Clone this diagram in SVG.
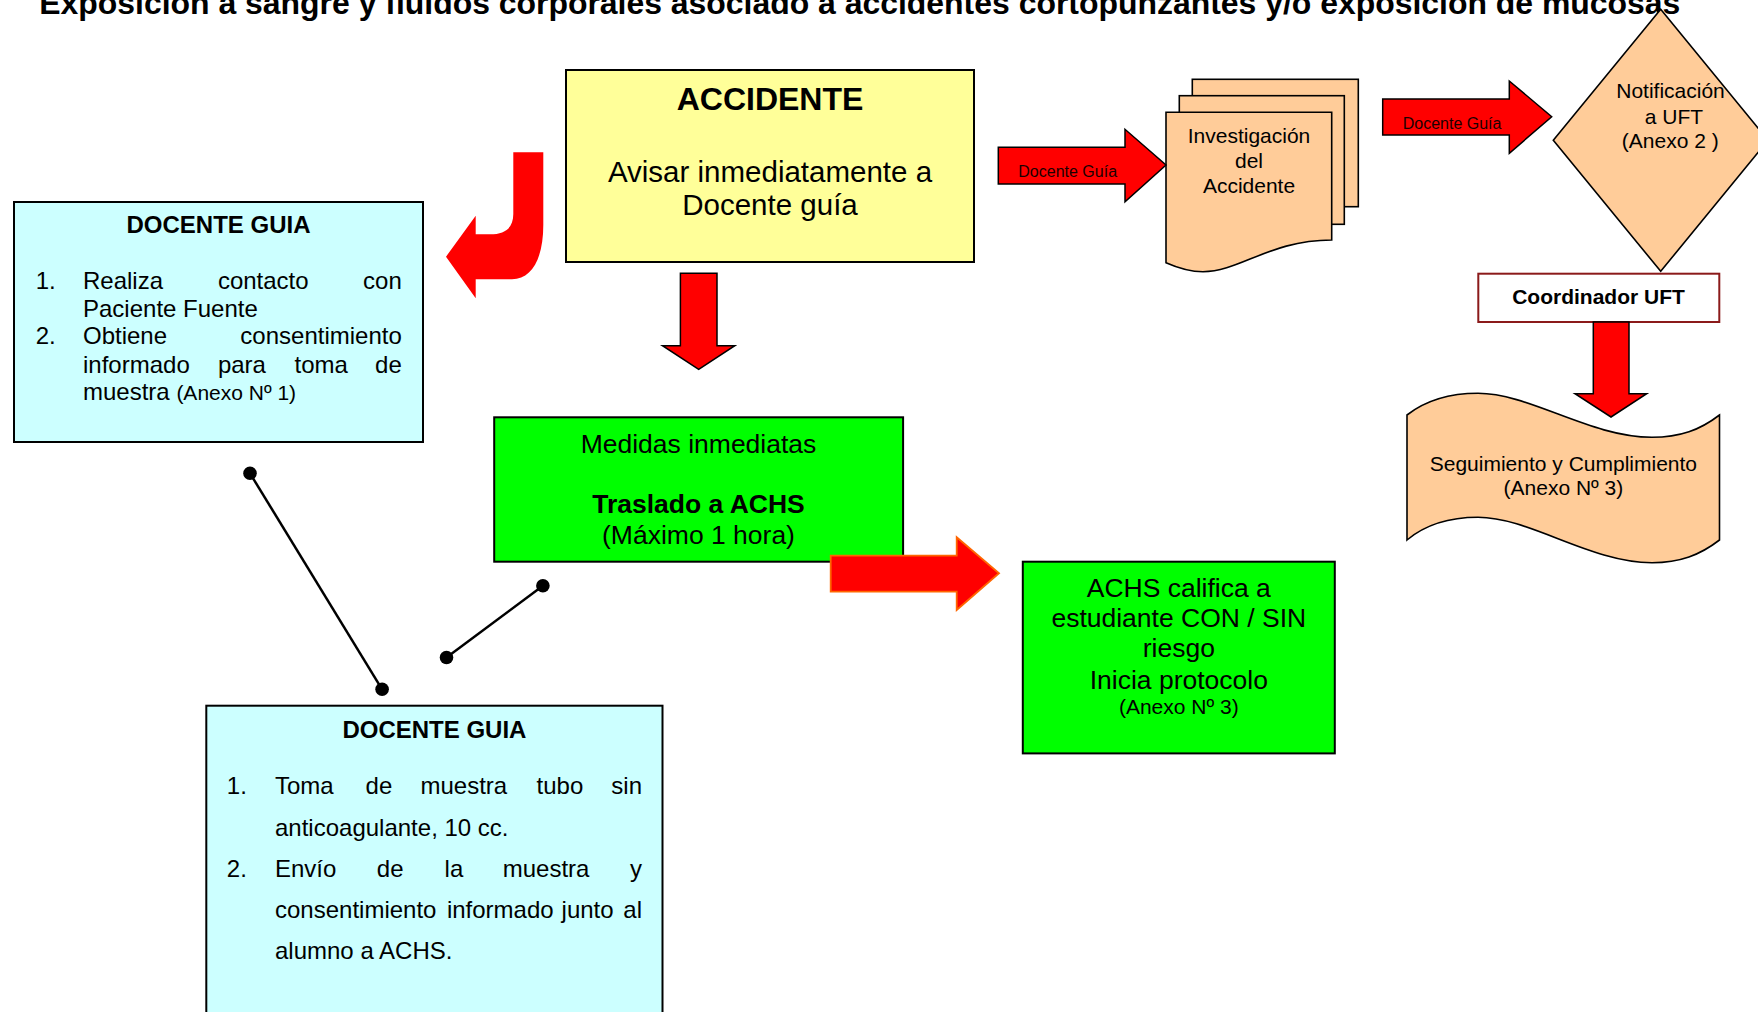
<svg xmlns="http://www.w3.org/2000/svg" width="1758" height="1012" viewBox="0 0 1758 1012">
<style>
text{font-family:"Liberation Sans",Arial,sans-serif;fill:#000}
.b{font-weight:bold}
.box{stroke:#000;stroke-width:2}
.yel{fill:#FFFF99}
.cy{fill:#CCFFFF}
.gr{fill:#00FF00}
.pe{fill:#FFCC99;stroke:#000;stroke-width:1.6}
.arr{fill:#FF0000;stroke:#000;stroke-width:1.5}
.c{text-anchor:middle}
.e{text-anchor:end}
.l24{font-size:24px}
.s21{font-size:21px}
.s265{font-size:26.5px}
.lbl{font-size:16px;fill:#1a0000}
.ln{stroke:#000;stroke-width:2.5;fill:none}
</style>
<rect width="1758" height="1012" fill="#fff"/>
<text id="title" class="b" x="39.3" y="14" font-size="32" textLength="1641" lengthAdjust="spacingAndGlyphs">Exposición a sangre y fluidos corporales asociado a accidentes cortopunzantes y/o exposición de mucosas</text>

<g id="accidente">
<rect class="box yel" x="566" y="70" width="408" height="192"/>
<text class="b c" x="770" y="110" font-size="32">ACCIDENTE</text>
<text class="c" x="770" y="181.7" font-size="29.5">Avisar inmediatamente a</text>
<text class="c" x="770" y="215" font-size="29.5">Docente guía</text>
</g>

<g id="docente1">
<rect class="box cy" x="14" y="202" width="409" height="240"/>
<text class="b c l24" x="218.5" y="233.3">DOCENTE GUIA</text>
<g class="l24">
<text x="35.7" y="289.3">1.</text>
<text x="83" y="289.3">Realiza</text>
<text x="217.9" y="289.3">contacto</text>
<text class="e" x="401.8" y="289.3">con</text>
<text x="83" y="316.7">Paciente Fuente</text>
<text x="35.7" y="344.3">2.</text>
<text x="83" y="344.3">Obtiene</text>
<text class="e" x="401.8" y="344.3">consentimiento</text>
<text x="83" y="372.7">informado</text>
<text x="217.9" y="372.7">para</text>
<text x="294.6" y="372.7">toma</text>
<text class="e" x="401.8" y="372.7">de</text>
<text x="83" y="400">muestra <tspan font-size="21">(Anexo Nº 1)</tspan></text>
</g>
</g>

<g id="medidas">
<rect class="box gr" x="494.2" y="417.3" width="408.9" height="144.4"/>
<text class="c s265" x="698.5" y="452.7">Medidas inmediatas</text>
<text class="b c s265" x="698.5" y="513.3">Traslado a ACHS</text>
<text class="c s265" x="698.5" y="544.3">(Máximo 1 hora)</text>
</g>

<g id="achs">
<rect class="box gr" x="1022.8" y="561.7" width="312" height="191.7"/>
<text class="c s265" x="1178.8" y="596.7">ACHS califica a</text>
<text class="c s265" x="1178.8" y="627">estudiante CON / SIN</text>
<text class="c s265" x="1178.8" y="657">riesgo</text>
<text class="c s265" x="1178.8" y="688.5">Inicia protocolo</text>
<text class="c s21" x="1178.8" y="714">(Anexo Nº 3)</text>
</g>

<g id="docente2">
<rect class="box cy" x="206.3" y="705.7" width="456.2" height="330"/>
<text class="b c l24" x="434.4" y="737.7">DOCENTE GUIA</text>
<g class="l24">
<text x="226.8" y="794">1.</text>
<text x="275" y="794">Toma</text>
<text x="365.6" y="794">de</text>
<text x="420.5" y="794">muestra</text>
<text x="536.6" y="794">tubo</text>
<text class="e" x="642" y="794">sin</text>
<text x="275" y="835.7">anticoagulante, 10 cc.</text>
<text x="226.8" y="876.7">2.</text>
<text x="275" y="876.7">Envío</text>
<text x="376.8" y="876.7">de</text>
<text x="444.6" y="876.7">la</text>
<text x="502.7" y="876.7">muestra</text>
<text class="e" x="642" y="876.7">y</text>
<text x="275" y="918.3">consentimiento</text>
<text x="446.9" y="918.3">informado</text>
<text x="561.6" y="918.3">junto</text>
<text class="e" x="642" y="918.3">al</text>
<text x="275" y="959.3">alumno a ACHS.</text>
</g>
</g>

<g id="investigacion">
<rect class="pe" x="1192.3" y="79.3" width="166" height="127.4"/>
<rect class="pe" x="1179.3" y="95.7" width="165" height="128.6"/>
<path class="pe" d="M1166,112.3 H1331.7 V240 C1270,240 1240,271.7 1203,271.7 C1190,271.7 1178,268 1166,262.7 Z"/>
<text class="c s21" x="1249" y="143.3">Investigación</text>
<text class="c s21" x="1249" y="168.3">del</text>
<text class="c s21" x="1249" y="192.7">Accidente</text>
</g>

<g id="notificacion">
<path class="pe" d="M1660.7,9.3 L1768,140.3 L1660.7,271.3 L1553.3,140.3 Z"/>
<text class="c s21" x="1670.5" y="98.3">Notificación</text>
<text class="c s21" x="1674" y="124">a UFT</text>
<text class="c s21" x="1670.3" y="147.7">(Anexo 2 )</text>
</g>

<g id="coordinador">
<rect x="1478.3" y="273.7" width="241" height="48.3" fill="#fff" stroke="#8B1A1A" stroke-width="2"/>
<text class="b c s21" x="1598.5" y="304.3">Coordinador UFT</text>
</g>

<g id="seguimiento">
<path class="pe" d="M1407,415 C1425,401 1450,393.3 1478,393.3 C1530,393.3 1590,437.3 1652,437.3 C1680,437.3 1700,430 1719.5,415 V540 C1700,555 1680,562.7 1652,562.7 C1590,562.7 1530,517.3 1478,517.3 C1450,517.3 1425,525 1407,540 Z"/>
<text class="c s21" x="1563.4" y="470.7">Seguimiento y Cumplimiento</text>
<text class="c s21" x="1563.4" y="495">(Anexo Nº 3)</text>
</g>

<g id="connectors">
<path fill="#FF0000" d="M513.3,152.3 H543.3 V225 C543.3,258 532,279.3 512,279.3 H475.7 V298.3 L446,256.7 L475.7,215.7 V234.3 H490 C505,234.3 513.3,228 513.3,214 Z"/>
<path class="arr" d="M680.4,273.3 H717 V345.7 H734.8 L698.7,369.3 L662.5,345.7 H680.4 Z"/>
<path fill="#FF0000" stroke="#FF6600" stroke-width="1.8" d="M830.7,555.7 H956.7 V537.3 L999,573.3 L956.7,610 V591.7 H830.7 Z"/>
<path class="arr" d="M998.3,147.3 H1125 V129.3 L1166,165 L1125,201.7 V184 H998.3 Z"/>
<text class="lbl" x="1018.3" y="177.3">Docente Guía</text>
<path class="arr" d="M1382.7,99 H1509.3 V81 L1551.7,116.7 L1509.3,153.3 V135 H1382.7 Z"/>
<text class="lbl" x="1402.7" y="129.3">Docente Guía</text>
<path class="arr" d="M1593.3,322 H1629 V393.7 H1646.7 L1611,417 L1575,393.7 H1593.3 Z"/>
<line class="ln" x1="250" y1="473.3" x2="382.1" y2="689.3"/>
<circle cx="250" cy="473.3" r="6.8"/>
<circle cx="382.1" cy="689.3" r="6.8"/>
<line class="ln" x1="542.9" y1="585.7" x2="446.5" y2="657.5"/>
<circle cx="542.9" cy="585.7" r="6.8"/>
<circle cx="446.5" cy="657.5" r="6.8"/>
</g>
</svg>
